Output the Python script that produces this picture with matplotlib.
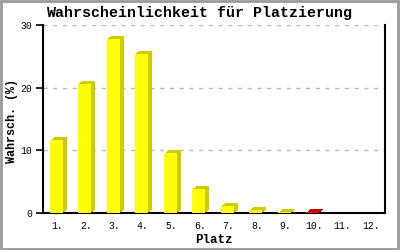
import matplotlib
matplotlib.use("Agg")
import matplotlib.pyplot as plt
import matplotlib.transforms as mtransforms
from matplotlib.patches import Rectangle

categories = ["1.", "2.", "3.", "4.", "5.", "6.", "7.", "8.", "9.", "10.", "11.", "12."]
values = [11.6, 20.6, 27.8, 25.4, 9.5, 3.8, 1.1, 0.4, 0.1, 0.1, 0.0, 0.0]
front_colors = ["#FFFF00"] * 9 + ["#FF0000"] + ["#FFFF00"] * 2
side_colors = ["#CCCC00"] * 9 + ["#CC0000"] + ["#CCCC00"] * 2
yticks = [0, 10, 20, 30]

mono = ["Liberation Mono", "DejaVu Sans Mono"]

fig = plt.figure(figsize=(4, 2.5), dpi=100)
ax = fig.add_axes([43/400, 37/250, 342/400, 188/250])

x = [i + 0.5 for i in range(len(categories))]
width = 0.46
shift = -0.04
depth_steps = [(1, 0.75), (2, 1.5), (3, 2.25), (4, 3)]
for xi, v, fc, sc in zip(x, values, front_colors, side_colors):
    if v <= 0:
        continue
    for dx, dy in depth_steps:
        off = mtransforms.ScaledTranslation(dx/100, dy/100, fig.dpi_scale_trans)
        ax.bar(xi + shift, v, width=width, color=sc, linewidth=0, zorder=2,
               transform=ax.transData + off)
    ax.bar(xi + shift, v, width=width, color=fc, linewidth=0, zorder=3)

ax.set_xlim(0, 12)
ax.set_ylim(0, 30)
ax.set_yticks(yticks)
ax.set_yticklabels([str(t) for t in yticks], fontsize=7, family=mono)
ax.set_xticks(x)
ax.set_xticklabels(categories, fontsize=7, family=mono)
ax.tick_params(axis="x", length=0, pad=6)
ax.tick_params(axis="y", length=5, width=1.2, pad=3, direction="out")
ax.grid(axis="y", color="#BBBBBB", linestyle=(0, (3, 4)), linewidth=1)
ax.set_axisbelow(True)
for s in ["left", "bottom", "right"]:
    ax.spines[s].set_linewidth(1.5)
    ax.spines[s].set_color("black")
ax.spines["top"].set_visible(False)

fig.text(213.5/400, 1 - 240/250, "Platz", ha="center", va="center",
         fontsize=9, fontweight="bold", family=mono)
fig.text(12.5/400, 1 - 121/250, "Wahrsch. (%)", ha="center", va="center", rotation=90,
         fontsize=8.5, fontweight="bold", family=mono)
fig.text(199.5/400, 1 - 13/250, "Wahrscheinlichkeit für Platzierung", ha="center", va="center",
         fontsize=10.8, fontweight="bold", family=mono)

fig.patches.append(Rectangle((0.002, 0.004), 0.994, 0.994, transform=fig.transFigure,
                             fill=False, edgecolor="#999999", linewidth=2))

fig.savefig("out.png", dpi=100)
